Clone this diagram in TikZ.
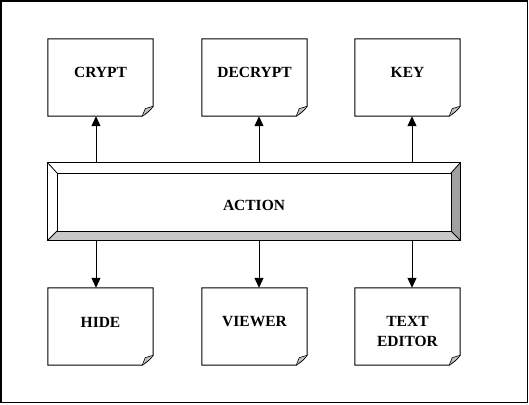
\documentclass[tikz,border=0pt]{standalone}
\usepackage{fontspec}
\setmainfont{Liberation Serif}
\usetikzlibrary{arrows.meta}
\tikzset{
  docbox/.style={minimum width=105pt, minimum height=77pt, inner sep=0pt},
  doctext/.style={font=\fontsize{15.5}{19.5}\selectfont\bfseries, align=center, inner sep=0pt},
  arr/.style={line width=1pt, -{Triangle[length=10pt,width=9pt]}},
  edge/.style={line width=1pt, line join=miter},
}
\definecolor{bevbot}{HTML}{C8C8C8}
\definecolor{bevright}{HTML}{A0A0A0}
\definecolor{foldc}{HTML}{C0C0C0}
\begin{document}
\begin{tikzpicture}[x=1pt,y=-1pt]
\useasboundingbox (0,0) rectangle (529,404);
\draw[line width=1.3pt] (1,1) rectangle (527.5,402.5);
% documents
\node[docbox] (crypt) at (100.5,77.5) {};
\node[docbox] (decrypt) at (254.5,77.5) {};
\node[docbox] (key) at (407.5,77.5) {};
\node[docbox] (hide) at (100.5,326.5) {};
\node[docbox] (viewer) at (254.5,326.5) {};
\node[docbox] (editor) at (407.5,326.5) {};
\node[doctext] (crypttext) at (100.5,72.5) {CRYPT};
\node[doctext] (decrypttext) at (254.5,72.5) {DECRYPT};
\node[doctext] (keytext) at (407.5,72.5) {KEY};
\node[doctext] (hidetext) at (100.5,322) {HIDE};
\node[doctext] (viewertext) at (254.5,322) {VIEWER};
\node[doctext] (editortext) at (407.5,331.5) {TEXT\\EDITOR};
\foreach \n in {crypt,decrypt,key,hide,viewer,editor}{
  \draw[edge] (\n.south west) -- (\n.north west) -- (\n.north east)
    -- ([yshift=10pt]\n.south east)
    .. controls ([xshift=-4pt,yshift=5pt]\n.south east) .. ([xshift=-11pt]\n.south east)
    -- cycle;
  \filldraw[fill=foldc, line width=0.6pt] ([yshift=10pt]\n.south east)
    -- ([xshift=-8pt,yshift=7.5pt]\n.south east)
    .. controls ([xshift=-9pt,yshift=4pt]\n.south east) .. ([xshift=-11pt]\n.south east);
}
% action bevel box
\node[minimum width=412pt, minimum height=77pt, inner sep=0pt] (action) at (254,201.5) {};
\coordinate (iNW) at (57,173);
\coordinate (iNE) at (451,173);
\coordinate (iSW) at (57,231);
\coordinate (iSE) at (451,231);
\fill[white] (action.north west) -- (action.north east) -- (iNE) -- (iNW) -- (iSW) -- (action.south west) -- cycle;
\fill[bevbot] (action.south west) -- (iSW) -- (iSE) -- (action.south east) -- cycle;
\fill[bevright] (action.south east) -- (iSE) -- (iNE) -- (action.north east) -- cycle;
\draw[edge] (action.north west) rectangle (action.south east);
\draw[edge] (iNW) rectangle (iSE);
\draw[line width=0.8pt] (action.north west) -- (iNW) (action.north east) -- (iNE)
  (action.south west) -- (iSW) (action.south east) -- (iSE);
\node[doctext] (actiontext) at (254,205.5) {ACTION};
% arrows
\draw[arr] (action.north -| 96,0) -- (crypt.south -| 96,0);
\draw[arr] (action.north -| 259,0) -- (decrypt.south -| 259,0);
\draw[arr] (action.north -| 412,0) -- (key.south -| 412,0);
\draw[arr] (action.south -| 96,0) -- (hide.north -| 96,0);
\draw[arr] (action.south -| 259,0) -- (viewer.north -| 259,0);
\draw[arr] (action.south -| 412,0) -- (editor.north -| 412,0);
\end{tikzpicture}
\end{document}
